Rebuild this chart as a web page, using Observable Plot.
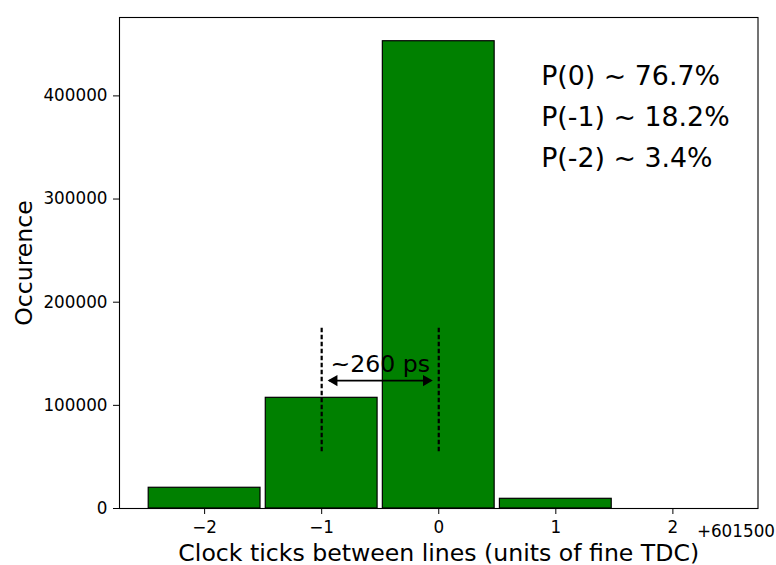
<!DOCTYPE html>
<html>
<head>
<meta charset="utf-8">
<script src="https://cdn.jsdelivr.net/npm/d3@7"></script>
<script src="https://cdn.jsdelivr.net/npm/@observablehq/plot@0.6"></script>
<style>
  html, body { margin: 0; padding: 0; background: #fff; }
  svg { font-family: "DejaVu Sans", sans-serif; }
</style>
</head>
<body>
<div id="chart"></div>
<script>
// ---- data ----
const xOffsetLabel = "+601500";
const bins = [-2, -1, 0, 1, 2];            // clock ticks (offset from 601500)
const counts = [20100, 107300, 453000, 9400, 0];
const xTicks = [-2, -1, 0, 1, 2];
const xTickLabels = ["\u22122", "\u22121", "0", "1", "2"];
const yTicks = [0, 100000, 200000, 300000, 400000];
const xLabel = "Clock ticks between lines (units of fine TDC)";
const yLabel = "Occurence";
const probLabels = ["P(0) ~ 76.7%", "P(-1) ~ 18.2%", "P(-2) ~ 3.4%"];
const probY = [411000, 371000, 331000];
const probX = 0.875;
const markerLinesX = [-1, 0];
const markerLow = 55000, markerHigh = 175000;
const arrowY = 124000;
const arrowText = "~260 ps";
const arrowTextY = 132000;
const barRelWidth = 0.955;

const bars = bins.map((b, i) => ({bin: b, count: counts[i]}));
const probs = probLabels.map((t, i) => ({text: t, y: probY[i]}));

const chart = Plot.plot({
  width: 776,
  height: 565,
  marginLeft: 119,
  marginRight: 18.5,
  marginTop: 17,
  marginBottom: 57,
  style: {fontFamily: "DejaVu Sans, sans-serif", background: "#fff", color: "#000"},
  x: {domain: [-2.727, 2.727]},
  y: {domain: [0, 476000]},
  marks: [
    Plot.rect(bars, {
      x1: d => d.bin - barRelWidth / 2,
      x2: d => d.bin + barRelWidth / 2,
      y1: 0,
      y2: "count",
      fill: "#008000",
      stroke: "#000",
      strokeWidth: 1.2
    }),
    Plot.ruleX(markerLinesX, {
      y1: markerLow, y2: markerHigh,
      stroke: "#000", strokeWidth: 2.2, strokeDasharray: "4.5,2.5"
    }),
    Plot.ruleY([arrowY], {
      x1: markerLinesX[0], x2: markerLinesX[1],
      insetLeft: 8, insetRight: 8,
      stroke: "#000", strokeWidth: 1.6
    }),
    Plot.dot([{x: markerLinesX[0], r: -90}, {x: markerLinesX[1], r: 90}], {
      x: "x", y: () => arrowY, symbol: "triangle", r: 4.2,
      rotate: "r", fill: "#000", stroke: "none"
    }),
    Plot.text([arrowText], {
      x: (markerLinesX[0] + markerLinesX[1]) / 2, y: arrowTextY,
      text: d => d, textAnchor: "middle", lineAnchor: "bottom",
      fontSize: 23.6, fill: "#000"
    }),
    Plot.text(probs, {
      x: probX, y: "y", text: "text",
      textAnchor: "start", lineAnchor: "bottom",
      fontSize: 26.8, fill: "#000"
    }),
    Plot.axisX({
      ticks: xTicks,
      tickFormat: d => xTickLabels[xTicks.indexOf(d)],
      tickSize: 6, tickPadding: 7, fontSize: 16.8, label: null
    }),
    Plot.axisY({
      ticks: yTicks,
      tickFormat: d => String(d),
      tickSize: 6, tickPadding: 6, fontSize: 16.8, label: null
    }),
    Plot.text([xOffsetLabel], {
      frameAnchor: "bottom-right", text: d => d,
      textAnchor: "end", lineAnchor: "bottom",
      dx: 17, dy: 28, fontSize: 16.8, fill: "#000"
    }),
    Plot.text([xLabel], {
      frameAnchor: "bottom", text: d => d,
      textAnchor: "middle", lineAnchor: "bottom",
      dy: 52, fontSize: 23.6, fill: "#000"
    }),
    Plot.text([yLabel], {
      frameAnchor: "left", text: d => d,
      textAnchor: "middle", lineAnchor: "bottom",
      rotate: -90, dx: -88, fontSize: 23.6, fill: "#000"
    }),
    Plot.frame({stroke: "#000", strokeWidth: 1.1})
  ]
});

// shift arrowheads so their tips sit just inside the dashed lines
d3.select(chart).selectAll("g[aria-label='dot'] path").each(function(_, i) {
  const el = d3.select(this);
  const t = el.attr("transform") || "";
  const shift = i === 0 ? 12.5 : -12.5;
  el.attr("transform", `translate(${shift},0) ` + t);
});

document.getElementById("chart").appendChild(chart);
</script>
</body>
</html>
